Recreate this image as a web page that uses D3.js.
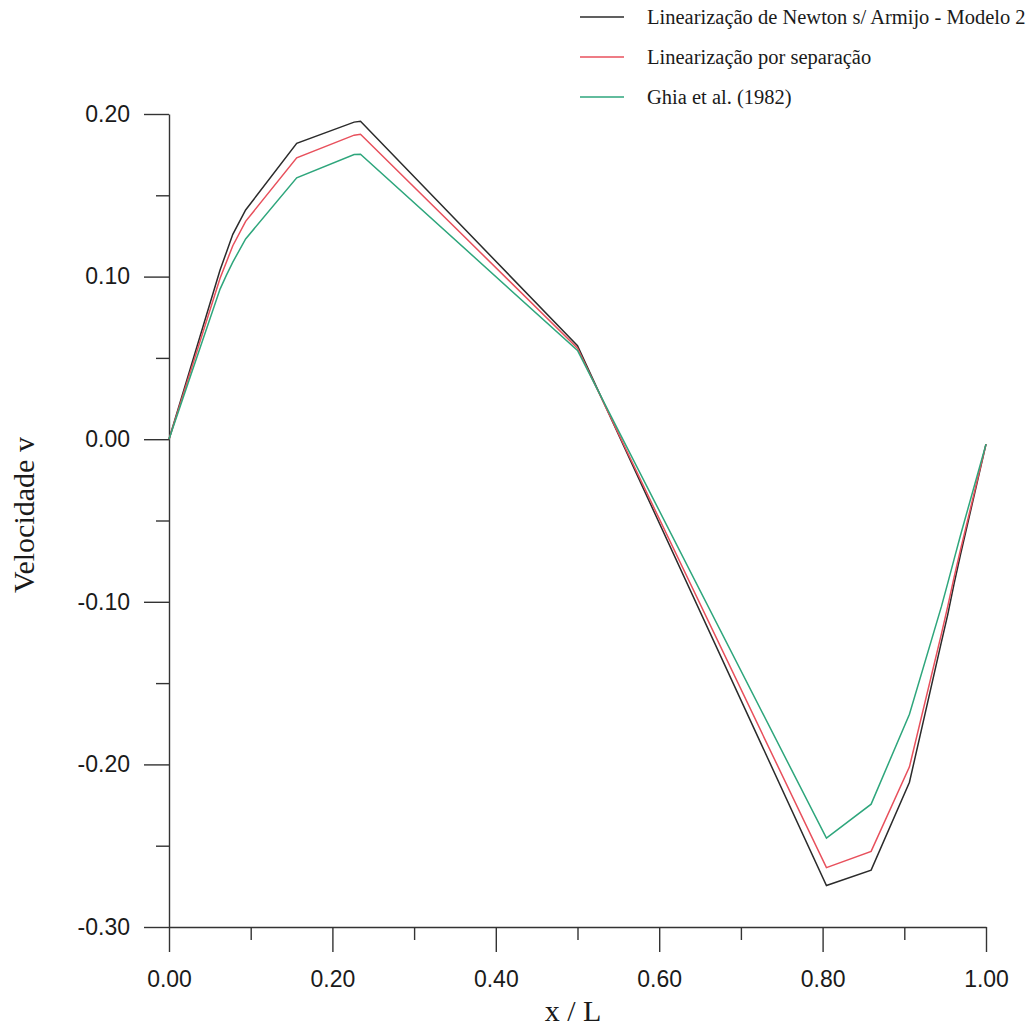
<!DOCTYPE html>
<html>
<head>
<meta charset="utf-8">
<script src="https://cdn.jsdelivr.net/npm/d3@7"></script>
<style>
  html, body { margin: 0; padding: 0; background: #fff; }
  svg { display: block; }
</style>
</head>
<body>
<svg id="chart" width="1032" height="1028"></svg>
<script>
// ---- data ----
const xPoints = [0.0000, 0.0625, 0.0703, 0.0781, 0.0938, 0.1563, 0.2266, 0.2344, 0.5000, 0.8047, 0.8594, 0.9063, 0.9453, 0.9531, 0.9609, 0.9688, 1.0000];
const newtonArmijo = [0, 0.104, 0.115, 0.126, 0.141, 0.182, 0.1950, 0.1955, 0.0575, -0.2745, -0.2650, -0.2110, -0.125, -0.108, -0.089, -0.071, -0.003];
const separacao    = [0, 0.099, 0.109, 0.119, 0.134, 0.173, 0.1870, 0.1875, 0.0560, -0.2635, -0.2535, -0.2015, -0.120, -0.103, -0.085, -0.068, -0.003];
const ghia1982     = [0, 0.09233, 0.10091, 0.10890, 0.12317, 0.16077, 0.17507, 0.17527, 0.05454, -0.24533, -0.22445, -0.16914, -0.10313, -0.08864, -0.07391, -0.05906, -0.003];

const seriesNames = ["Linearização de Newton s/ Armijo - Modelo 2", "Linearização por separação", "Ghia et al. (1982)"];
const seriesColors = ["#2b2b2b", "#e8505c", "#2ea67c"];
const seriesValues = [newtonArmijo, separacao, ghia1982];

const xMajorTicks = [0, 0.2, 0.4, 0.6, 0.8, 1.0];
const xMinorTicks = [0.1, 0.3, 0.5, 0.7, 0.9];
const xTickLabels = ["0.00", "0.20", "0.40", "0.60", "0.80", "1.00"];
const yMajorTicks = [0.2, 0.1, 0, -0.1, -0.2, -0.3];
const yMinorTicks = [0.15, 0.05, -0.05, -0.15, -0.25];
const yTickLabels = ["0.20", "0.10", "0.00", "-0.10", "-0.20", "-0.30"];
const xTitle = "x / L";
const yTitle = "Velocidade v";

// ---- layout ----
const svg = d3.select("#chart");
const x = d3.scaleLinear().domain([0, 1]).range([169, 986]);
const y = d3.scaleLinear().domain([-0.3, 0.2]).range([927, 114]);
const axisColor = "#333";

// x axis
const xAxisMajor = d3.axisBottom(x).tickValues(xMajorTicks)
  .tickFormat((d, i) => xTickLabels[i]).tickSizeInner(25).tickSizeOuter(0).tickPadding(14);
const gx = svg.append("g").attr("transform", `translate(0,${y(-0.3)})`).call(xAxisMajor);
const xAxisMinor = d3.axisBottom(x).tickValues(xMinorTicks).tickFormat("").tickSizeInner(13).tickSizeOuter(0);
svg.append("g").attr("transform", `translate(0,${y(-0.3)})`).call(xAxisMinor).select(".domain").remove();

// y axis
const yAxisMajor = d3.axisLeft(y).tickValues(yMajorTicks)
  .tickFormat((d, i) => yTickLabels[i]).tickSizeInner(25).tickSizeOuter(0).tickPadding(14);
const gy = svg.append("g").attr("transform", `translate(${x(0)},0)`).call(yAxisMajor);
const yAxisMinor = d3.axisLeft(y).tickValues(yMinorTicks).tickFormat("").tickSizeInner(13).tickSizeOuter(0);
svg.append("g").attr("transform", `translate(${x(0)},0)`).call(yAxisMinor).select(".domain").remove();

svg.selectAll(".domain, .tick line").attr("stroke", axisColor).attr("stroke-width", 1.4);
svg.selectAll(".tick text")
  .attr("fill", "#1a1a1a")
  .style("font-family", "'Liberation Sans', Arial, sans-serif")
  .style("font-size", "23px");
gx.selectAll(".tick text").attr("dy", "0.9em");

// axis titles
svg.append("text")
  .attr("x", 573).attr("y", 1021)
  .attr("text-anchor", "middle")
  .style("font-family", "'Liberation Serif', 'Times New Roman', serif")
  .style("font-size", "30px").attr("fill", "#1a1a1a")
  .text(xTitle);
svg.append("text")
  .attr("transform", "translate(34,515) rotate(-90)")
  .attr("text-anchor", "middle")
  .style("font-family", "'Liberation Serif', 'Times New Roman', serif")
  .style("font-size", "30px").attr("fill", "#1a1a1a")
  .text(yTitle);

// lines
const line = d3.line().x(d => x(d[0])).y(d => y(d[1]));
seriesValues.forEach((vals, k) => {
  const pts = xPoints.map((xv, i) => [xv, vals[i]]);
  svg.append("path")
    .datum(pts)
    .attr("d", line)
    .attr("fill", "none")
    .attr("stroke", seriesColors[k])
    .attr("stroke-width", 1.5)
    .attr("stroke-linejoin", "miter");
});

// legend
const legendRowsY = [17, 57, 97];
const legend = svg.append("g");
seriesNames.forEach((name, k) => {
  legend.append("line")
    .attr("x1", 580).attr("x2", 624)
    .attr("y1", legendRowsY[k]).attr("y2", legendRowsY[k])
    .attr("stroke", seriesColors[k]).attr("stroke-width", 1.5);
  legend.append("text")
    .attr("x", 647).attr("y", legendRowsY[k])
    .attr("dy", "0.33em")
    .style("font-family", "'Liberation Serif', 'Times New Roman', serif")
    .style("font-size", "20.5px").attr("fill", "#1a1a1a")
    .text(name);
});
</script>
</body>
</html>
